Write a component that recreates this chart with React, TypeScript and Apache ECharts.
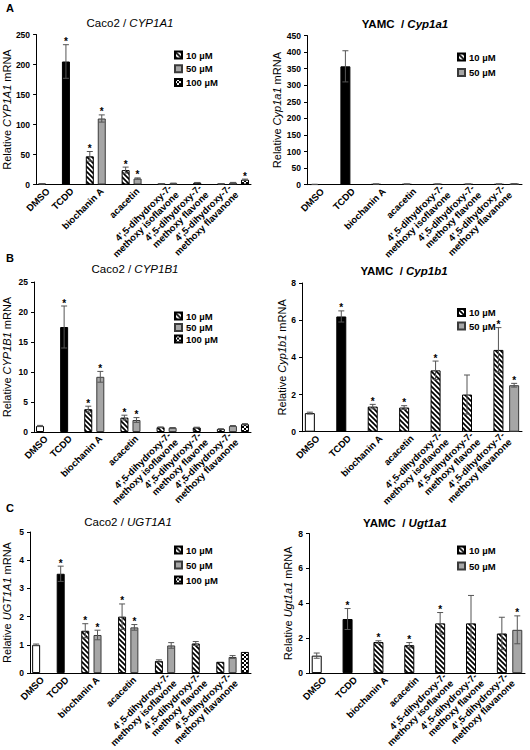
import React, { useEffect, useRef } from "react";
import * as echarts from "echarts";

const FONT = '"Liberation Sans", Arial, Helvetica, sans-serif';

// ---------- categories & labels ----------
const compounds = [
  "DMSO",
  "TCDD",
  "biochanin A",
  "acacetin",
  "4',5-dihydroxy-7-\nmethoxy isoflavone",
  "4',5-dihydroxy-7-\nmethoxy flavone",
  "4',5-dihydroxy-7-\nmethoxy flavanone",
];
const concentrations = ["10 µM", "50 µM", "100 µM"];

// ---------- A: Caco2 / CYP1A1 ----------
const a1Ctrl = [1, 205];
const a1CtrlErr = [0.3, 28];
const a1CtrlStar = [0, 1];
const a1C10 = [null, null, 47, 24, 1, 3, 1];
const a1C10Err = [0, 0, 8, 5, 0.2, 0.4, 0.2];
const a1C10Star = [0, 0, 1, 1, 0, 0, 0];
const a1C50 = [null, null, 110, 10, 2, null, 3];
const a1C50Err = [0, 0, 6, 1, 0.3, 0, 0.5];
const a1C50Star = [0, 0, 1, 1, 0, 0, 0];
const a1C100 = [null, null, null, null, null, null, 8];
const a1C100Err = [0, 0, 0, 0, 0, 0, 1];
const a1C100Star = [0, 0, 0, 0, 0, 0, 1];

// ---------- A: YAMC / Cyp1a1 ----------
const a2Ctrl = [1, 357];
const a2CtrlErr = [0.3, 47];
const a2CtrlStar = [0, 0];
const a2C10 = [null, null, 2, 2, 2, 2, 2];
const a2C10Err = [0, 0, 0.3, 0.3, 0.3, 0.3, 0.3];
const a2C10Star = [0, 0, 0, 0, 0, 0, 0];
const a2C50 = [null, null, null, null, null, null, 3];
const a2C50Err = [0, 0, 0, 0, 0, 0, 0.4];
const a2C50Star = [0, 0, 0, 0, 0, 0, 0];

// ---------- B: Caco2 / CYP1B1 ----------
const b1Ctrl = [1.0, 17.5];
const b1CtrlErr = [0.1, 3.5];
const b1CtrlStar = [0, 1];
const b1C10 = [null, null, 3.8, 2.4, 0.8, 0.75, 0.5];
const b1C10Err = [0, 0, 0.5, 0.4, 0.05, 0.05, 0.05];
const b1C10Star = [0, 0, 1, 1, 0, 0, 0];
const b1C50 = [null, null, 9.2, 2.0, 0.7, null, 1.0];
const b1C50Err = [0, 0, 0.9, 0.4, 0.05, 0, 0.08];
const b1C50Star = [0, 0, 1, 1, 0, 0, 0];
const b1C100 = [null, null, null, null, null, null, 1.3];
const b1C100Err = [0, 0, 0, 0, 0, 0, 0.1];
const b1C100Star = [0, 0, 0, 0, 0, 0, 0];

// ---------- B: YAMC / Cyp1b1 ----------
const b2Ctrl = [1.0, 6.2];
const b2CtrlErr = [0.05, 0.3];
const b2CtrlStar = [0, 1];
const b2C10 = [null, null, 1.35, 1.3, 3.3, 2.0, 4.4];
const b2C10Err = [0, 0, 0.12, 0.1, 0.5, 1.05, 1.2];
const b2C10Star = [0, 0, 1, 1, 1, 0, 1];
const b2C50 = [null, null, null, null, null, null, 2.5];
const b2C50Err = [0, 0, 0, 0, 0, 0, 0.1];
const b2C50Star = [0, 0, 0, 0, 0, 0, 1];

// ---------- C: Caco2 / UGT1A1 ----------
const c1Ctrl = [1.0, 3.52];
const c1CtrlErr = [0.03, 0.27];
const c1CtrlStar = [0, 1];
const c1C10 = [null, null, 1.5, 2.0, 0.43, 1.05, 0.4];
const c1C10Err = [0, 0, 0.25, 0.45, 0.04, 0.07, 0];
const c1C10Star = [0, 0, 1, 1, 0, 0, 0];
const c1C50 = [null, null, 1.35, 1.62, 0.98, null, 0.57];
const c1C50Err = [0, 0, 0.17, 0.1, 0.1, 0, 0.05];
const c1C50Star = [0, 0, 1, 1, 0, 0, 0];
const c1C100 = [null, null, null, null, null, null, 0.75];
const c1C100Err = [0, 0, 0, 0, 0, 0, 0];
const c1C100Star = [0, 0, 0, 0, 0, 0, 0];

// ---------- C: YAMC / Ugt1a1 ----------
const c2Ctrl = [1.0, 3.1];
const c2CtrlErr = [0.15, 0.6];
const c2CtrlStar = [0, 1];
const c2C10 = [null, null, 1.78, 1.6, 2.85, 2.85, 2.27];
const c2C10Err = [0, 0, 0.07, 0.15, 0.62, 1.6, 0.93];
const c2C10Star = [0, 0, 1, 1, 1, 0, 0];
const c2C50 = [null, null, null, null, null, null, 2.48];
const c2C50Err = [0, 0, 0, 0, 0, 0, 0.8];
const c2C50Star = [0, 0, 0, 0, 0, 0, 1];

// y-axis tick settings
const yMaxes = [250, 450, 25, 8, 5, 8];
const yIntervals = [50, 50, 5, 2, 1, 2];
const titles = [
  ["Caco2 / ", "CYP1A1"],
  ["YAMC  / ", "Cyp1a1"],
  ["Caco2 / ", "CYP1B1"],
  ["YAMC  / ", "Cyp1b1"],
  ["Caco2 / ", "UGT1A1"],
  ["YAMC  / ", "Ugt1a1"],
];

type Panel = {
  ctrl: number[];
  ctrlErr: number[];
  ctrlStar: number[];
  conc: (number | null)[][];
  concErr: number[][];
  concStar: number[][];
  wide: boolean;
};

const panelData: Panel[] = [
  { ctrl: a1Ctrl, ctrlErr: a1CtrlErr, ctrlStar: a1CtrlStar, conc: [a1C10, a1C50, a1C100], concErr: [a1C10Err, a1C50Err, a1C100Err], concStar: [a1C10Star, a1C50Star, a1C100Star], wide: true },
  { ctrl: a2Ctrl, ctrlErr: a2CtrlErr, ctrlStar: a2CtrlStar, conc: [a2C10, a2C50], concErr: [a2C10Err, a2C50Err], concStar: [a2C10Star, a2C50Star], wide: false },
  { ctrl: b1Ctrl, ctrlErr: b1CtrlErr, ctrlStar: b1CtrlStar, conc: [b1C10, b1C50, b1C100], concErr: [b1C10Err, b1C50Err, b1C100Err], concStar: [b1C10Star, b1C50Star, b1C100Star], wide: true },
  { ctrl: b2Ctrl, ctrlErr: b2CtrlErr, ctrlStar: b2CtrlStar, conc: [b2C10, b2C50], concErr: [b2C10Err, b2C50Err], concStar: [b2C10Star, b2C50Star], wide: false },
  { ctrl: c1Ctrl, ctrlErr: c1CtrlErr, ctrlStar: c1CtrlStar, conc: [c1C10, c1C50, c1C100], concErr: [c1C10Err, c1C50Err, c1C100Err], concStar: [c1C10Star, c1C50Star, c1C100Star], wide: true },
  { ctrl: c2Ctrl, ctrlErr: c2CtrlErr, ctrlStar: c2CtrlStar, conc: [c2C10, c2C50], concErr: [c2C10Err, c2C50Err], concStar: [c2C10Star, c2C50Star], wide: false },
];

// ---------- layout (pixels) ----------
const grids = [
  { left: 33, top: 34.5, width: 218, height: 150 },
  { left: 307, top: 35.5, width: 215, height: 149.2 },
  { left: 33, top: 282, width: 218, height: 150 },
  { left: 302, top: 283, width: 220, height: 148.7 },
  { left: 29, top: 532, width: 222, height: 151.5 },
  { left: 309, top: 533.5, width: 216, height: 150 },
];
const titlePos = [
  [130, 23],
  [405, 24],
  [135, 269],
  [404, 270.5],
  [128, 521.5],
  [405, 522.5],
];
const legendPos = [
  { left: 169, top: 45, gap: 3.8 },
  { left: 452, top: 47, gap: 5.6 },
  { left: 169, top: 306, gap: 1.5 },
  { left: 452, top: 302.5, gap: 3.5 },
  { left: 169, top: 540, gap: 5 },
  { left: 452, top: 540, gap: 6 },
];
const nameGaps = [21, 23, 22, 13, 18, 16];

function makeHatch() {
  const s = 5;
  const c = document.createElement("canvas");
  c.width = s;
  c.height = s;
  const ctx = c.getContext("2d")!;
  ctx.fillStyle = "#fff";
  ctx.fillRect(0, 0, s, s);
  ctx.strokeStyle = "#000";
  ctx.lineWidth = 1.7;
  for (const k of [-s, 0, s]) {
    ctx.beginPath();
    ctx.moveTo(-1, k - 1);
    ctx.lineTo(s + 1, s + k + 1);
    ctx.stroke();
  }
  return c;
}
function makeCheck() {
  const c = document.createElement("canvas");
  c.width = 4;
  c.height = 4;
  const ctx = c.getContext("2d")!;
  ctx.fillStyle = "#fff";
  ctx.fillRect(0, 0, 4, 4);
  ctx.fillStyle = "#000";
  ctx.fillRect(0, 0, 2, 2);
  ctx.fillRect(2, 2, 2, 2);
  return c;
}

function buildOption() {
  const hatch = makeHatch();
  const check = makeCheck();
  const concStyles = [
    { color: { image: hatch, repeat: "repeat" }, borderColor: "#000", borderWidth: 1 },
    { color: "#a6a6a6", borderColor: "#3a3a3a", borderWidth: 1 },
    { color: { image: check, repeat: "repeat" }, borderColor: "#000", borderWidth: 1 },
  ];

  const xAxis: any[] = [];
  const yAxis: any[] = [];
  const series: any[] = [];
  const legend: any[] = [];
  const graphic: any[] = [];

  panelData.forEach((p, k) => {
    const counts = p.wide ? [2, 2, 3, 3, 3, 2, 3] : [2, 2, 2, 2, 2, 2, 2];
    const starts: number[] = [];
    let acc = 0;
    counts.forEach((c) => {
      starts.push(acc);
      acc += c;
    });
    const nCat = 2 * acc + 1;
    const labelAt: Record<number, string> = {};
    compounds.forEach((name, i) => {
      labelAt[2 * starts[i] + counts[i]] = name;
    });
    const barW = p.wide ? 8 : 10;
    const gene = titles[k][1];

    xAxis.push({
      type: "category",
      gridIndex: k,
      boundaryGap: false,
      data: Array.from({ length: nCat }, (_, j) => String(j)),
      axisLine: { show: true, lineStyle: { color: "#000", width: 1 } },
      axisTick: { show: false },
      splitLine: { show: false },
      axisLabel: {
        interval: 0,
        rotate: 45,
        margin: 5,
        fontFamily: FONT,
        fontWeight: "bold",
        fontSize: 9.5,
        lineHeight: 10,
        color: "#000",
        formatter: (v: string) => labelAt[Number(v)] || "",
      },
    });
    yAxis.push({
      type: "value",
      gridIndex: k,
      min: 0,
      max: yMaxes[k],
      interval: yIntervals[k],
      axisLine: { show: true, lineStyle: { color: "#000", width: 1 } },
      axisTick: { show: true, length: 3, lineStyle: { color: "#000" } },
      splitLine: { show: false },
      axisLabel: { fontFamily: FONT, fontWeight: "bold", fontSize: 8.5, color: "#000", margin: 6 },
      name: "Relative {i|" + gene + "} mRNA",
      nameLocation: "middle",
      nameGap: nameGaps[k],
      nameTextStyle: {
        fontFamily: FONT,
        fontSize: 11,
        color: "#000",
        rich: { i: { fontStyle: "italic", fontFamily: FONT, fontSize: 11, color: "#000" } },
      },
    });

    // control bars (DMSO white, TCDD black)
    const ctrlData: any[] = new Array(nCat).fill(null);
    const errData: any[] = [];
    p.ctrl.forEach((v, i) => {
      const j = 2 * starts[i] + 1;
      ctrlData[j] = {
        value: v,
        itemStyle: i === 0 ? { color: "#fff", borderColor: "#000", borderWidth: 1 } : { color: "#000", borderColor: "#000", borderWidth: 1 },
      };
      errData.push([j, v, p.ctrlErr[i], p.ctrlStar[i]]);
    });
    series.push({
      type: "bar",
      name: "ctrl",
      xAxisIndex: k,
      yAxisIndex: k,
      barWidth: barW,
      barGap: "-100%",
      data: ctrlData,
    });
    p.conc.forEach((vals, c) => {
      const data: any[] = new Array(nCat).fill(null);
      vals.forEach((v, i) => {
        if (v === null) return;
        const j = 2 * (starts[i] + c) + 1;
        data[j] = v;
        errData.push([j, v, p.concErr[c][i], p.concStar[c][i]]);
      });
      series.push({
        type: "bar",
        name: concentrations[c],
        xAxisIndex: k,
        yAxisIndex: k,
        barWidth: barW,
        barGap: "-100%",
        itemStyle: concStyles[c],
        data,
      });
    });
    series.push({
      type: "custom",
      name: "err",
      xAxisIndex: k,
      yAxisIndex: k,
      z: 5,
      encode: { x: 0, y: 1 },
      data: errData,
      renderItem: (_params: any, api: any) => {
        const j = api.value(0);
        const m = api.value(1);
        const e = api.value(2);
        const s = api.value(3);
        const top = api.coord([j, m + e]);
        const bot = api.coord([j, Math.max(m - e, 0)]);
        const children: any[] = [];
        const st = { stroke: "#555", lineWidth: 1 };
        if (e > 0) {
          children.push({ type: "line", shape: { x1: top[0], y1: top[1], x2: bot[0], y2: bot[1] }, style: st });
          children.push({ type: "line", shape: { x1: top[0] - 3, y1: top[1], x2: top[0] + 3, y2: top[1] }, style: st });
          children.push({ type: "line", shape: { x1: bot[0] - 3, y1: bot[1], x2: bot[0] + 3, y2: bot[1] }, style: st });
        }
        if (s) {
          children.push({
            type: "text",
            x: top[0],
            y: top[1] - 3,
            style: {
              text: "*",
              fill: "#000",
              font: "bold 10px " + FONT,
              align: "center",
              verticalAlign: "middle",
              textAlign: "center",
              textVerticalAlign: "middle",
            },
          });
        }
        return { type: "group", children };
      },
    });

    const lp = legendPos[k];
    legend.push({
      data: p.conc.map((_, c) => concentrations[c]),
      orient: "vertical",
      left: lp.left,
      top: lp.top,
      itemWidth: 7,
      itemHeight: 7,
      itemGap: lp.gap,
      icon: "rect",
      selectedMode: false,
      textStyle: { fontFamily: FONT, fontWeight: "bold", fontSize: 9.5, color: "#000", lineHeight: 10, padding: [0, 0, 0, -1] },
    });

    graphic.push({
      type: "text",
      x: titlePos[k][0],
      y: titlePos[k][1],
      style: {
        text: "{a|" + titles[k][0] + "}{b|" + titles[k][1] + "}",
        align: "center",
        verticalAlign: "middle",
        rich: {
          a: { fontFamily: FONT, fontSize: 11.5, fontWeight: k % 2 === 1 ? "bold" : "normal", fill: "#000" },
          b: { fontFamily: FONT, fontSize: 11.5, fontStyle: "italic", fontWeight: k % 2 === 1 ? "bold" : "normal", fill: "#000" },
        },
      },
    });
  });

  const letters = [
    ["A", 6, 8],
    ["B", 6, 258],
    ["C", 6, 508],
  ];
  letters.forEach(([t, x, y]) => {
    graphic.push({
      type: "text",
      x,
      y,
      style: { text: t, fill: "#000", font: "bold 11px " + FONT, align: "left", verticalAlign: "middle" },
    });
  });

  return {
    animation: false,
    backgroundColor: "#fff",
    textStyle: { fontFamily: FONT },
    grid: grids,
    xAxis,
    yAxis,
    series,
    legend,
    graphic,
  };
}

export default function App() {
  const ref = useRef<HTMLDivElement>(null);
  useEffect(() => {
    if (!ref.current) return;
    const chart = echarts.init(ref.current, undefined, { renderer: "svg" });
    chart.setOption(buildOption() as any);
    return () => chart.dispose();
  }, []);
  return (
    <div
      ref={ref}
      style={{ position: "absolute", left: 0, top: 0, width: 530, height: 750, background: "#fff" }}
    />
  );
}
